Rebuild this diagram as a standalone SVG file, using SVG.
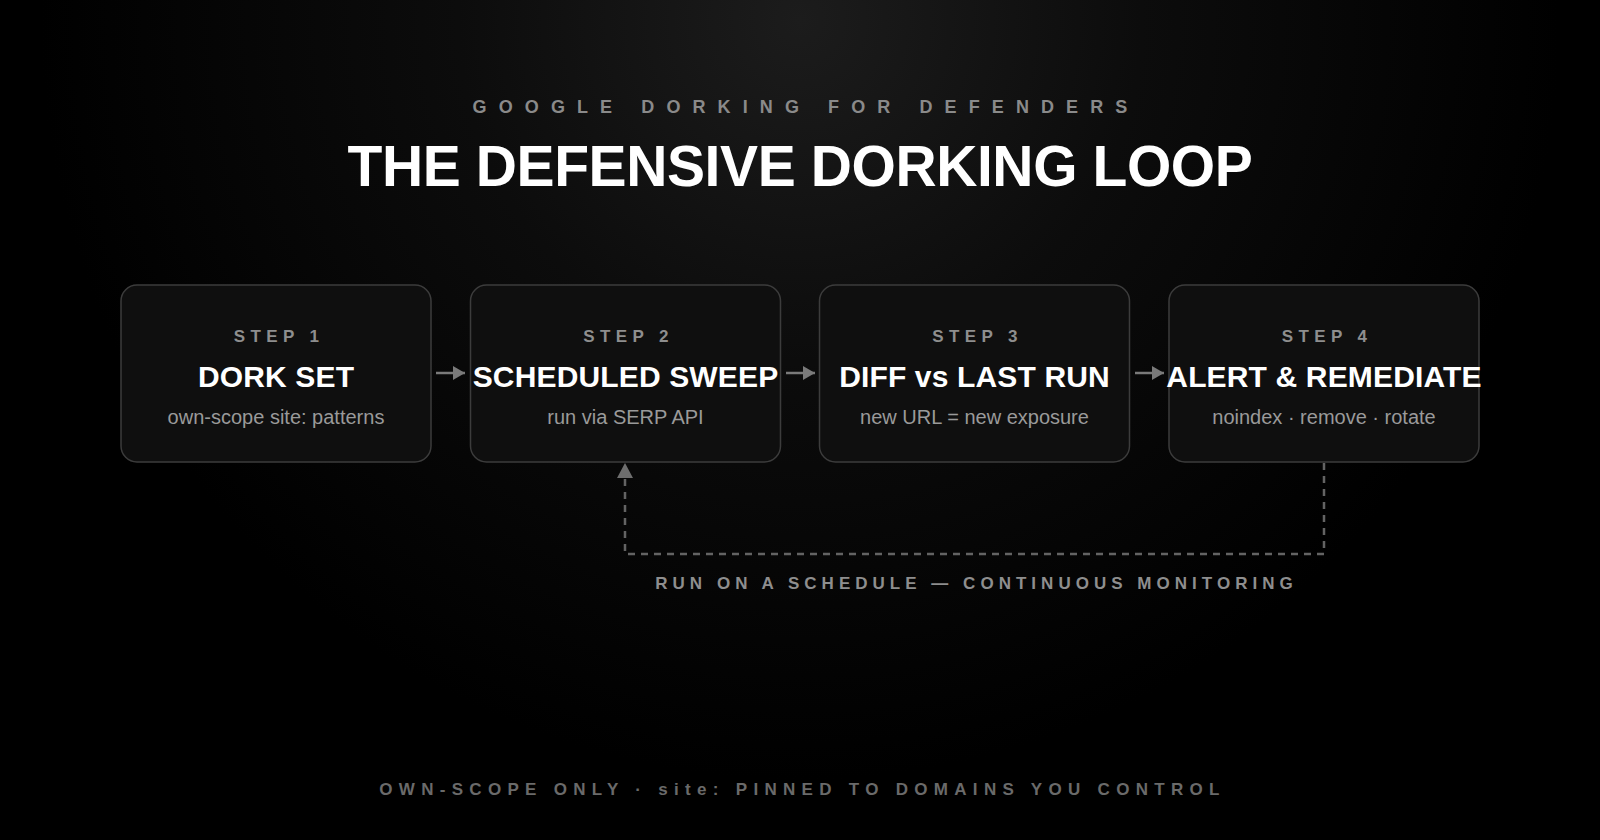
<svg xmlns="http://www.w3.org/2000/svg" width="1600" height="840" viewBox="0 0 1600 840">
  <defs>
    <radialGradient id="bg" gradientUnits="userSpaceOnUse" cx="800" cy="20" r="760">
      <stop offset="0" stop-color="#1c1c1c"/>
      <stop offset="0.45" stop-color="#0c0c0c"/>
      <stop offset="1" stop-color="#000000"/>
    </radialGradient>
    <marker id="ah" viewBox="0 0 12 14" refX="12" refY="7" markerWidth="12" markerHeight="14" markerUnits="userSpaceOnUse" orient="auto">
      <path d="M0,0 L12,7 L0,14 Z" fill="#7a7a7a"/>
    </marker>
  </defs>
  <style>
    .box { fill: #0f0f0f; stroke: #3c3c3c; stroke-width: 1.5; }
    .step { font-family: "Liberation Sans", Arial, sans-serif; font-weight: bold; font-size: 17px; letter-spacing: 5.4px; fill: #8e8e8e; text-anchor: middle; }
    .title { font-family: "Liberation Sans", Arial, sans-serif; font-weight: bold; font-size: 30px; letter-spacing: 0.15px; fill: #ffffff; text-anchor: middle; }
    .sub { font-family: "Liberation Sans", Arial, sans-serif; font-size: 20px; fill: #9a9a9a; text-anchor: middle; }
    .conn { stroke: #7a7a7a; stroke-width: 2.5; fill: none; }
    .loop { stroke: #636363; stroke-width: 2.5; fill: none; stroke-dasharray: 7 6; }
  </style>
  <rect x="0" y="0" width="1600" height="840" fill="url(#bg)"/>

  <g id="header">
    <text x="806" y="113" font-family="Liberation Sans, Arial, sans-serif" font-weight="bold" font-size="18" letter-spacing="12.1" fill="#8a8a8a" text-anchor="middle">GOOGLE DORKING FOR DEFENDERS</text>
    <text x="800" y="186" font-family="Liberation Sans, Arial, sans-serif" font-weight="bold" font-size="57" letter-spacing="-0.4" fill="#ffffff" text-anchor="middle">THE DEFENSIVE DORKING LOOP</text>
  </g>

  <g id="step1">
    <rect class="box" x="121" y="285" width="310" height="177" rx="16"/>
    <text class="step" x="279" y="342">STEP 1</text>
    <text class="title" x="276" y="387">DORK SET</text>
    <text class="sub" x="276" y="424">own-scope site: patterns</text>
  </g>
  <g id="step2">
    <rect class="box" x="470.5" y="285" width="310" height="177" rx="16"/>
    <text class="step" x="628.5" y="342">STEP 2</text>
    <text class="title" x="625.5" y="387">SCHEDULED SWEEP</text>
    <text class="sub" x="625.5" y="424">run via SERP API</text>
  </g>
  <g id="step3">
    <rect class="box" x="819.5" y="285" width="310" height="177" rx="16"/>
    <text class="step" x="977.5" y="342">STEP 3</text>
    <text class="title" x="974.5" y="387">DIFF vs LAST RUN</text>
    <text class="sub" x="974.5" y="424">new URL = new exposure</text>
  </g>
  <g id="step4">
    <rect class="box" x="1169" y="285" width="310" height="177" rx="16"/>
    <text class="step" x="1327" y="342">STEP 4</text>
    <text class="title" x="1324" y="387">ALERT &amp; REMEDIATE</text>
    <text class="sub" x="1324" y="424">noindex · remove · rotate</text>
  </g>

  <g id="connectors">
    <line class="conn" x1="436" y1="373" x2="465" y2="373" marker-end="url(#ah)"/>
    <line class="conn" x1="786" y1="373" x2="815" y2="373" marker-end="url(#ah)"/>
    <line class="conn" x1="1135" y1="373" x2="1164" y2="373" marker-end="url(#ah)"/>
    <path class="loop" d="M1324,463 V554 H625 V478"/>
    <path d="M625,463 L633,478 L617,478 Z" fill="#6e6e6e"/>
  </g>

  <g id="loop-label">
    <text x="976.5" y="589" font-family="Liberation Sans, Arial, sans-serif" font-weight="bold" font-size="17" letter-spacing="5.02" fill="#8e8e8e" text-anchor="middle">RUN ON A SCHEDULE — CONTINUOUS MONITORING</text>
  </g>

  <g id="footer">
    <text x="802.5" y="795" font-family="Liberation Sans, Arial, sans-serif" font-weight="bold" font-size="17" letter-spacing="6.3" fill="#6a6a6a" text-anchor="middle">OWN-SCOPE ONLY · site: PINNED TO DOMAINS YOU CONTROL</text>
  </g>
</svg>
